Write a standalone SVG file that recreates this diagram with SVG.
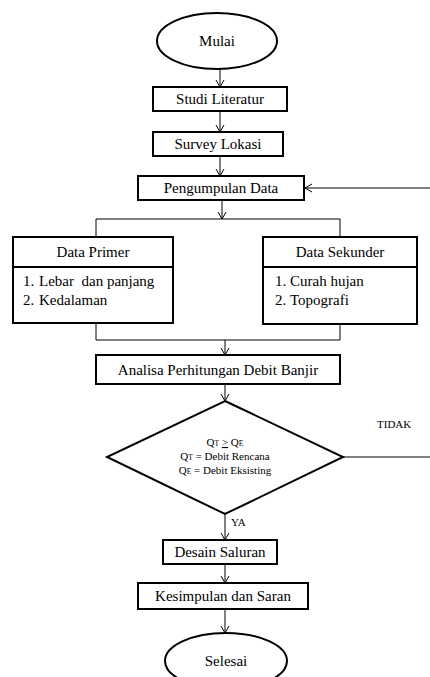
<svg xmlns="http://www.w3.org/2000/svg" width="430" height="677" viewBox="0 0 430 677">
<defs>
<style>
.box{fill:#fff;stroke:#000;stroke-width:2}
.t{font-family:"Liberation Serif","Times New Roman",serif;font-size:15px;fill:#000}
.s{font-family:"Liberation Serif","Times New Roman",serif;font-size:11px;fill:#000}
.c{stroke:#000;stroke-width:1;fill:none}
</style>
<marker id="ah" markerWidth="10" markerHeight="10" refX="8" refY="5" orient="auto" markerUnits="userSpaceOnUse">
<path d="M1,1 L8,5 L1,9" fill="none" stroke="#000" stroke-width="1"/>
</marker>
</defs>
<rect width="430" height="677" fill="#fff"/>
<g id="connectors">
<line class="c" x1="220" y1="69" x2="220" y2="87" marker-end="url(#ah)"/>
<line class="c" x1="220" y1="111" x2="220" y2="132" marker-end="url(#ah)"/>
<line class="c" x1="220" y1="156" x2="220" y2="176" marker-end="url(#ah)"/>
<line class="c" x1="430" y1="188" x2="305" y2="188" marker-end="url(#ah)"/>
<line class="c" x1="222" y1="200" x2="222" y2="219" marker-end="url(#ah)"/>
<polyline class="c" points="96,237 96,219 340,219 340,237"/>
<polyline class="c" points="96,323 96,340 340,340 340,324"/>
<line class="c" x1="225" y1="340" x2="225" y2="355" marker-end="url(#ah)"/>
<line class="c" x1="225" y1="384" x2="225" y2="401" marker-end="url(#ah)"/>
<line class="c" x1="343" y1="457" x2="430" y2="457"/>
<line class="c" x1="225" y1="514" x2="225" y2="540" marker-end="url(#ah)"/>
<line class="c" x1="225" y1="564" x2="225" y2="583" marker-end="url(#ah)"/>
<line class="c" x1="225" y1="609" x2="225" y2="633" marker-end="url(#ah)"/>
<text class="s" x="377" y="428">TIDAK</text>
<text class="s" x="231" y="526">YA</text>
</g>
<g id="mulai">
<ellipse class="box" cx="217" cy="41" rx="60" ry="28"/>
<text class="t" x="217" y="46" text-anchor="middle">Mulai</text>
</g>
<g id="studi">
<rect class="box" x="153" y="87" width="134" height="24"/>
<text class="t" x="220" y="104" text-anchor="middle">Studi Literatur</text>
</g>
<g id="survey">
<rect class="box" x="153" y="132" width="130" height="24"/>
<text class="t" x="218" y="149" text-anchor="middle">Survey Lokasi</text>
</g>
<g id="pengumpulan">
<rect class="box" x="138" y="176" width="166" height="24"/>
<text class="t" x="221" y="193" text-anchor="middle">Pengumpulan Data</text>
</g>
<g id="primer">
<rect class="box" x="13" y="237" width="160" height="30"/>
<text class="t" x="93" y="257" text-anchor="middle">Data Primer</text>
<rect class="box" x="13" y="267" width="160" height="56"/>
<text class="t" x="23" y="286" xml:space="preserve">1.</text>
<text class="t" x="39" y="286" xml:space="preserve">Lebar  dan panjang</text>
<text class="t" x="23" y="305">2.</text>
<text class="t" x="39" y="305">Kedalaman</text>
</g>
<g id="sekunder">
<rect class="box" x="263" y="237" width="154" height="30"/>
<text class="t" x="340" y="257" text-anchor="middle">Data Sekunder</text>
<rect class="box" x="263" y="267" width="154" height="57"/>
<text class="t" x="275" y="286">1.</text>
<text class="t" x="290" y="286">Curah hujan</text>
<text class="t" x="275" y="305">2.</text>
<text class="t" x="290" y="305">Topografi</text>
</g>
<g id="analisa">
<rect class="box" x="96" y="355" width="244" height="29"/>
<text class="t" x="218" y="375" text-anchor="middle">Analisa Perhitungan Debit Banjir</text>
</g>
<g id="keputusan">
<polygon class="box" points="225,401 343,457 225,514 107,457"/>
<text class="s" x="225" y="446" text-anchor="middle">Q<tspan font-size="7.5">T</tspan> <tspan text-decoration="underline">&gt;</tspan> Q<tspan font-size="7.5">E</tspan></text>
<text class="s" x="225" y="460" text-anchor="middle">Q<tspan font-size="7.5">T</tspan> = Debit Rencana</text>
<text class="s" x="225" y="474" text-anchor="middle">Q<tspan font-size="7.5">E</tspan> = Debit Eksisting</text>
</g>
<g id="desain">
<rect class="box" x="163" y="540" width="114" height="24"/>
<text class="t" x="220" y="557" text-anchor="middle">Desain Saluran</text>
</g>
<g id="kesimpulan">
<rect class="box" x="138" y="583" width="170" height="26"/>
<text class="t" x="223" y="601" text-anchor="middle">Kesimpulan dan Saran</text>
</g>
<g id="selesai">
<ellipse class="box" cx="226" cy="661" rx="61" ry="28"/>
<text class="t" x="226" y="666" text-anchor="middle">Selesai</text>
</g>
</svg>
